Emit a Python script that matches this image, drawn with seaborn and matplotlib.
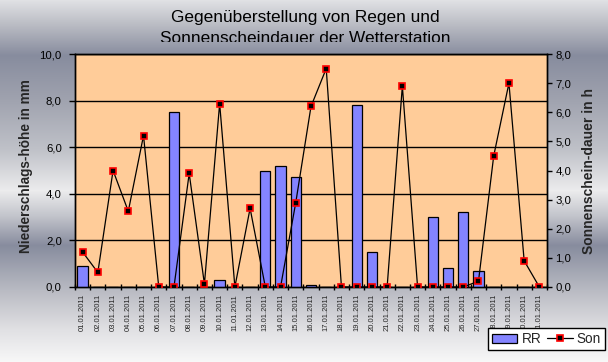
import numpy as np
import pandas as pd
import matplotlib
matplotlib.use("Agg")
import matplotlib.pyplot as plt
from matplotlib import font_manager
from matplotlib.patches import Patch
from matplotlib.lines import Line2D
from matplotlib.ticker import FuncFormatter, FixedLocator
from matplotlib.transforms import Bbox, TransformedBbox
import seaborn as sns

# ---------------- data ----------------
dates = ["01.01.2011", "02.01.2011", "03.01.2011", "04.01.2011", "05.01.2011",
         "06.01.2011", "07.01.2011", "08.01.2011", "09.01.2011", "10.01.2011",
         "11.01.2011", "12.01.2011", "13.01.2011", "14.01.2011", "15.01.2011",
         "16.01.2011", "17.01.2011", "18.01.2011", "19.01.2011", "20.01.2011",
         "21.01.2011", "22.01.2011", "23.01.2011", "24.01.2011", "25.01.2011",
         "26.01.2011", "27.01.2011", "28.01.2011", "29.01.2011", "30.01.2011",
         "31.01.2011"]
rr = [0.9, 0.0, 0.0, 0.0, 0.0, 0.0, 7.5, 0.0, 0.0, 0.3,
      0.0, 0.0, 5.0, 5.2, 4.7, 0.1, 0.0, 0.0, 7.8, 1.5,
      0.0, 0.0, 0.0, 3.0, 0.8, 3.2, 0.7, 0.0, 0.0, 0.0, 0.0]
son = [1.2, 0.5, 4.0, 2.6, 5.2, 0.0, 0.0, 3.9, 0.1, 6.3,
       0.0, 2.7, 0.0, 0.0, 2.9, 6.2, 7.5, 0.0, 0.0, 0.0,
       0.0, 6.9, 0.0, 0.0, 0.0, 0.0, 0.2, 4.5, 7.0, 0.9, 0.0]
left_ticks = [0, 2, 4, 6, 8, 10]
right_ticks = [0, 1, 2, 3, 4, 5, 6, 7, 8]
title_lines = ["Gegenüberstellung von Regen und", "Sonnenscheindauer der Wetterstation"]
ylabel_left = "Niederschlags-höhe in mm"
ylabel_right = "Sonnenschein-dauer in h"

df = pd.DataFrame({"Datum": dates, "RR": rr, "Son": son})

# ---------------- style ----------------
sns.set_theme(style="ticks")
names = {f.name for f in font_manager.fontManager.ttflist}
base_font = "Liberation Sans" if "Liberation Sans" in names else "DejaVu Sans"
has_narrow = "Liberation Sans Narrow" in names
narrow_font = "Liberation Sans Narrow" if has_narrow else base_font
ytick_size = 9 if has_narrow else 8.2
xtick_size = 6.4 if has_narrow else 5.5
plt.rcParams["font.family"] = [base_font, "DejaVu Sans"]

W, H = 608, 362
fig = plt.figure(figsize=(W / 100, H / 100), dpi=100)

# background gradient
stops_y = [0, 25, 55, 100, 150, 190, 215, 245, 290, 330, 362]
stops_c = [(224, 225, 228), (185, 187, 195), (135, 140, 158), (160, 163, 175),
           (192, 194, 201), (236, 236, 237), (195, 197, 204), (135, 140, 158),
           (185, 187, 195), (225, 225, 228), (248, 248, 248)]
yy = np.arange(H)
grad = np.zeros((H, 1, 3))
for k in range(3):
    grad[:, 0, k] = np.interp(yy, stops_y, [c[k] for c in stops_c]) / 255.0
bg = fig.add_axes([0, 0, 1, 1], zorder=-10)
bg.imshow(grad, aspect="auto", extent=(0, 1, 0, 1), origin="upper")
bg.set_axis_off()

# plot area
L, R, T, B = 75, 547, 54, 287
ax = fig.add_axes([L / W, 1 - B / H, (R - L) / W, (B - T) / H])
ax.set_facecolor("#ffcc99")

bar_color = "#8484ff"
sns.barplot(data=df, x="Datum", y="RR", ax=ax, color=bar_color, width=0.68,
            edgecolor="black", linewidth=0.9, saturation=1, zorder=3)
ax.set_xlim(-0.5, len(dates) - 0.5)
ax.set_ylim(0, 10)
ax.set_axisbelow(True)
ax.yaxis.set_major_locator(FixedLocator(left_ticks))
ax.yaxis.grid(True, color="black", linewidth=1.0)
ax.xaxis.grid(False)

comma = FuncFormatter(lambda v, p: f"{v:.1f}".replace(".", ","))
ax.yaxis.set_major_formatter(comma)
ax.set_xlabel("")
ax.set_ylabel(ylabel_left, fontsize=9.8, fontweight="bold")
ax.yaxis.set_label_coords((33.5 - L) / (R - L), (B - 166.5) / (B - T))

ax2 = ax.twinx()
sns.lineplot(data=df, x="Datum", y="Son", ax=ax2, color="black", linewidth=0.9,
             marker="s", markersize=4.4, markerfacecolor="black",
             markeredgecolor="#ff0000", markeredgewidth=1.2, zorder=5)
ax2.set_xlim(-0.5, len(dates) - 0.5)
ax2.set_ylim(0, 8)
ax2.yaxis.set_major_locator(FixedLocator(right_ticks))
ax2.yaxis.set_major_formatter(comma)
ax2.set_ylabel(ylabel_right, fontsize=10, fontweight="bold")
ax2.yaxis.set_label_coords((582 - L) / (R - L), (B - 171.5) / (B - T))
ax2.set_xlabel("")
ax2.grid(False)

for a in (ax, ax2):
    for s in a.spines.values():
        s.set_visible(True)
        s.set_color("black")
        s.set_linewidth(1.0)

ax.tick_params(axis="y", direction="out", length=4.5, width=1, color="black",
               pad=5, labelsize=ytick_size, labelcolor="black")
for lab in ax.get_yticklabels():
    lab.set_fontfamily(narrow_font)
ax2.tick_params(axis="y", direction="out", length=3.5, width=1, color="black",
                pad=2.5, labelsize=ytick_size, labelcolor="black")
for lab in ax2.get_yticklabels():
    lab.set_fontfamily(narrow_font)

# x axis: labels at centers, tick marks at boundaries
ax.set_xticks(range(len(dates)))
ax.set_xticklabels(dates, rotation=90, fontsize=xtick_size, fontfamily=narrow_font)
ax.tick_params(axis="x", which="major", length=0, pad=5)
ax.set_xticks(np.arange(-0.5, len(dates), 1.0), minor=True)
ax.tick_params(axis="x", which="minor", direction="inout", length=5, width=1, color="black")
ax2.tick_params(axis="x", which="both", length=0, labelbottom=False)

for a in (ax, ax2):
    lg = a.get_legend()
    if lg is not None:
        lg.remove()

# title (second line clipped like the reference)
t1 = fig.text(305 / W, 1 - 22 / H, title_lines[0], ha="center", va="baseline",
              fontsize=12.4, color="black")
t2 = fig.text(305 / W, 1 - 43.0 / H, title_lines[1], ha="center", va="baseline",
              fontsize=12.4, color="black")
t2.set_clip_on(True)
t2.set_clip_box(TransformedBbox(Bbox([[0, 1 - 41.5 / H], [1, 1]]), fig.transFigure))

# legend
handles = [Patch(facecolor=bar_color, edgecolor="black", linewidth=0.9),
           Line2D([], [], color="black", linewidth=0.9, marker="s", markersize=4.4,
                  markerfacecolor="black", markeredgecolor="#ff0000", markeredgewidth=1.2)]
leg = fig.legend(handles, ["RR", "Son"], loc="upper right",
                 bbox_to_anchor=(605 / W, 1 - 328 / H), ncol=2, fontsize=9.8,
                 frameon=True, fancybox=False, framealpha=1, edgecolor="black",
                 borderpad=0.3, handlelength=1.9, handletextpad=0.3,
                 columnspacing=0.4, borderaxespad=0)
leg.get_frame().set_linewidth(1.0)

fig.savefig("out.png", dpi=100)
